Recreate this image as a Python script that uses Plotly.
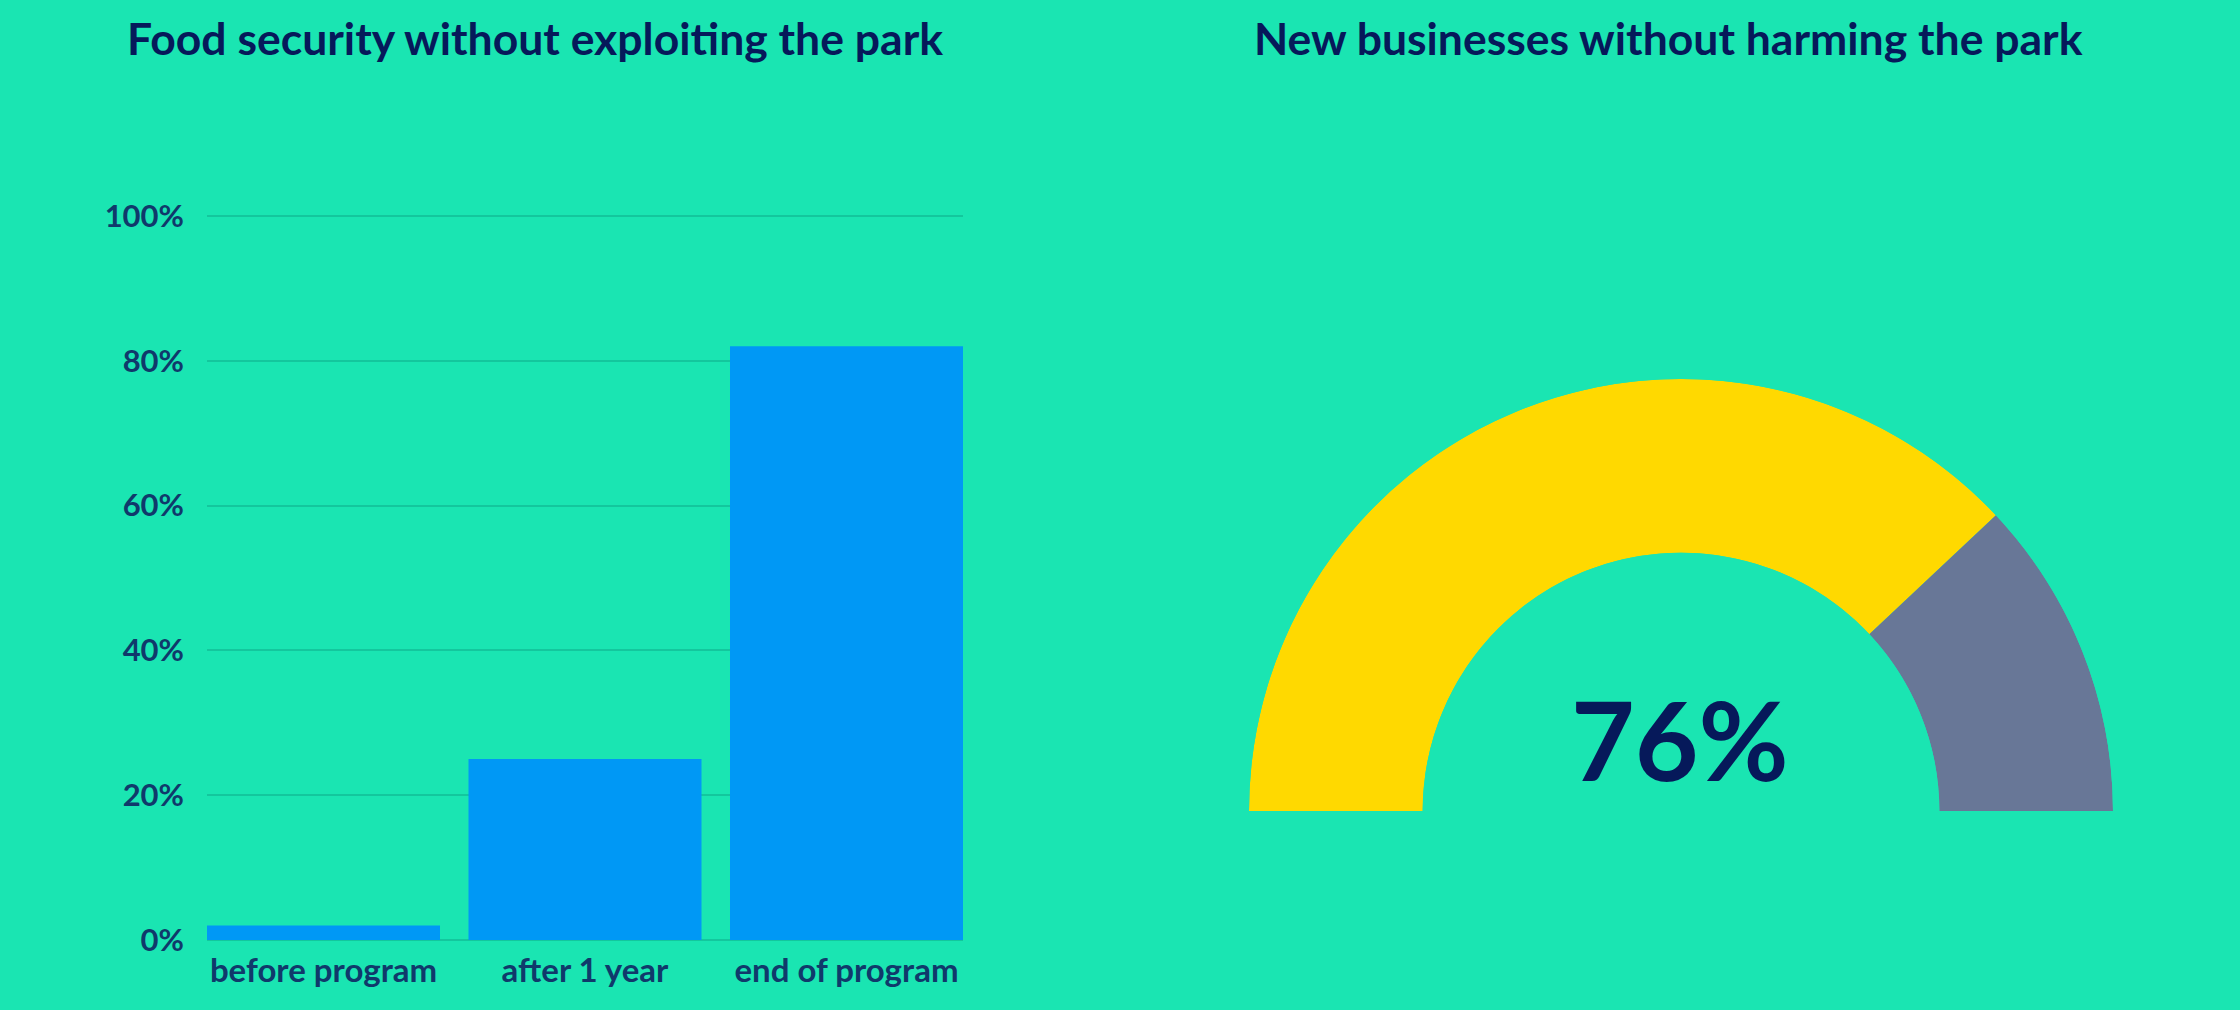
import plotly.graph_objects as go

# ---- data ----
bar_categories = ["before program", "after 1 year", "end of program"]
bar_values = [2, 25, 82]
y_tick_values = [0, 20, 40, 60, 80, 100]
y_tick_labels = ["0%", "20%", "40%", "60%", "80%", "100%"]
gauge_value = 76
gauge_max = 100
title_left = "Food security without exploiting the park"
title_right = "New businesses without harming the park"

W, H = 2240, 1010
BG = "#1ae5b2"
NAVY = "#06195a"
TICK = "#10396b"
GRID = "#13c79d"
FONT = "Lato"

fig = go.Figure()

fig.add_trace(go.Bar(
    x=bar_categories, y=bar_values,
    marker=dict(color="#0098f5", line=dict(width=0)),
    hoverinfo="skip", showlegend=False,
))

# gauge as a half-donut of polar bars
span = 180.0
val_deg = gauge_value / gauge_max * span
rest_deg = span - val_deg
fig.add_trace(go.Barpolar(
    r=[1, 1],
    theta=[val_deg / 2, val_deg + rest_deg / 2],
    width=[val_deg, rest_deg],
    marker=dict(color=["#ffd900", "#687797"], line=dict(width=0)),
    hoverinfo="skip", showlegend=False,
))

fig.update_layout(
    template="none",
    width=W, height=H, autosize=False,
    margin=dict(l=0, r=0, t=0, b=0, pad=0, autoexpand=False),
    paper_bgcolor=BG, plot_bgcolor=BG,
    bargap=0.109,
    font=dict(family=FONT, color=TICK),
    xaxis=dict(
        domain=[207 / W, 963 / W],
        range=[-0.4455, 2.4455],
        showgrid=False, showline=False, zeroline=False,
        tickfont=dict(family=FONT, size=33, color=TICK, weight=700),
        ticks="", ticklabelstandoff=8, automargin=False,
    ),
    yaxis=dict(
        domain=[70 / H, 797 / H],
        range=[0, 100.4],
        tickmode="array", tickvals=y_tick_values, ticktext=y_tick_labels,
        showgrid=True, gridcolor=GRID, gridwidth=1.5,
        zeroline=True, zerolinecolor=GRID, zerolinewidth=2,
        showline=False,
        tickfont=dict(family=FONT, size=31, color=TICK, weight=700),
        ticks="", ticklabelstandoff=22, automargin=False,
    ),
    polar=dict(
        domain=dict(x=[1249 / W, 2113 / W], y=[199 / H, 631 / H]),
        sector=[0, 180],
        hole=0.598,
        bgcolor="rgba(0,0,0,0)",
        radialaxis=dict(range=[0, 1], visible=False),
        angularaxis=dict(visible=False, direction="clockwise", rotation=180,
                         thetaunit="degrees"),
    ),
    annotations=[
        dict(text=title_left, x=535 / W, y=1 - 37 / H, xref="paper", yref="paper",
             xanchor="center", yanchor="middle", showarrow=False,
             font=dict(family=FONT, size=44.5, color=NAVY, weight=700)),
        dict(text=title_right, x=1668 / W, y=1 - 37 / H, xref="paper", yref="paper",
             xanchor="center", yanchor="middle", showarrow=False,
             font=dict(family=FONT, size=44.5, color=NAVY, weight=700)),
        dict(text=f"{gauge_value}%", x=1680 / W, y=1 - 738 / H, xref="paper", yref="paper",
             xanchor="center", yanchor="middle", showarrow=False,
             font=dict(family=FONT, size=110, color=NAVY, weight=700)),
    ],
)

fig.write_html("out.html", config={"displayModeBar": False})
